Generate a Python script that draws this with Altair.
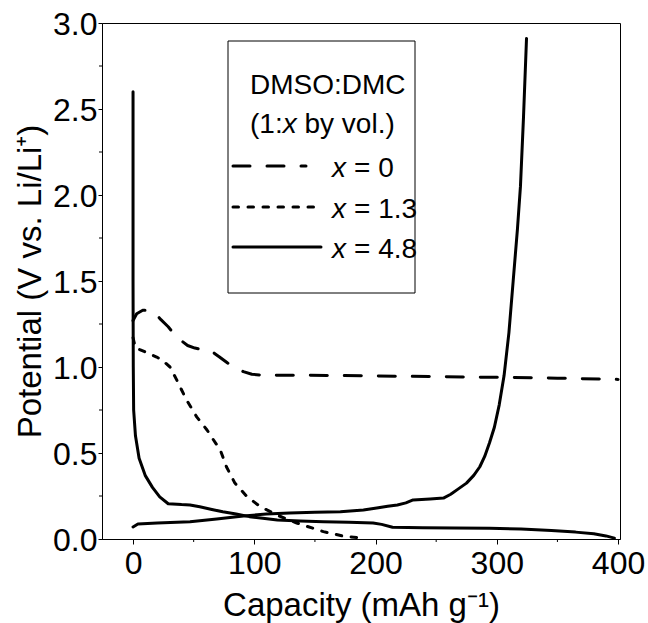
import altair as alt
import pandas as pd

FONT = "Liberation Sans"

# ---- data ----
# x = 0 (dashed)
cap_x0 = [0, 3, 8, 14, 18, 23, 29, 34, 39, 45, 51, 58, 64, 71, 78, 85, 91, 98, 106,
          130, 160, 200, 250, 300, 350, 400]
pot_x0 = [1.27, 1.31, 1.33, 1.33, 1.315, 1.275, 1.234, 1.19, 1.157, 1.125, 1.11, 1.10,
          1.095, 1.06, 1.023, 0.995, 0.973, 0.958, 0.953,
          0.952, 0.951, 0.948, 0.944, 0.94, 0.935, 0.928]

# x = 1.3 (dotted)
cap_x13 = [0, 2, 6, 12.5, 19.5, 24, 30.5, 36, 44, 52.5, 61, 66, 72, 77, 84, 94, 105,
           118.5, 135, 157, 173, 190]
pot_x13 = [1.17, 1.11, 1.10, 1.08, 1.058, 1.04, 1.0, 0.925, 0.81, 0.71, 0.634, 0.58,
           0.517, 0.42, 0.325, 0.246, 0.188, 0.14, 0.093, 0.043, 0.017, 0.004]

# x = 4.8 (solid), discharge branch
cap_x48_dis = [0, 0, 0.2, 0.5, 2, 5, 10, 16, 22, 29, 40, 47, 55, 65, 74, 85, 96, 107,
               119, 138, 157, 178, 198, 205, 214, 239, 265, 294, 320, 345, 365, 380,
               390, 397]
pot_x48_dis = [2.60, 1.5, 1.0, 0.75, 0.6, 0.47, 0.37, 0.30, 0.245, 0.205, 0.20, 0.198,
               0.187, 0.172, 0.158, 0.145, 0.13, 0.12, 0.11, 0.105, 0.10, 0.097, 0.093,
               0.085, 0.068, 0.066, 0.064, 0.062, 0.058, 0.05, 0.04, 0.03, 0.018, 0.005]

# x = 4.8 (solid), charge branch
cap_x48_chg = [0, 4, 20, 47, 69, 91, 110, 129, 150, 171, 190, 201, 210, 218, 225, 231,
               245, 256, 262, 268, 275, 281, 286, 290, 294, 298, 302, 306, 310, 313.5,
               317, 319.5, 322, 324.5]
pot_x48_chg = [0.07, 0.087, 0.093, 0.10, 0.116, 0.134, 0.145, 0.151, 0.155, 0.158,
               0.168, 0.18, 0.19, 0.198, 0.21, 0.227, 0.233, 0.238, 0.26, 0.29, 0.325,
               0.37, 0.42, 0.48, 0.56, 0.65, 0.78, 0.95, 1.2, 1.5, 1.8, 2.05, 2.45, 2.91]

x_major = [0, 100, 200, 300, 400]
x_minor = [50, 150, 250, 350]
y_major = [0.0, 0.5, 1.0, 1.5, 2.0, 2.5, 3.0]
y_minor = [0.25, 0.75, 1.25, 1.75, 2.25, 2.75]

legend_head = ["DMSO:DMC", "(1:", "x", "by vol.)"]
legend_vals = ["0", "1.3", "4.8"]

x_title = "Capacity (mAh g\u207b\u00b9)"
y_title = "Potential (V vs. Li/Li\u207a)"

# ---- layout ----
W, H = 518, 516


def frame(cap, pot, branch):
    return pd.DataFrame({"cap": cap, "pot": pot, "branch": branch,
                         "order": list(range(len(cap)))})


df_x0 = frame(cap_x0, pot_x0, "a")
df_x13 = frame(cap_x13, pot_x13, "a")
df_x48 = pd.concat([frame(cap_x48_dis, pot_x48_dis, "dis"),
                    frame(cap_x48_chg, pot_x48_chg, "chg")])

x_scale = alt.Scale(domain=[-25.6, 401.6], nice=False, zero=False)
y_scale = alt.Scale(domain=[0, 3], nice=False, zero=False)

x_enc = alt.X("cap:Q", scale=x_scale,
              axis=alt.Axis(values=x_major, title=x_title, tickSize=5,
                            labelPadding=29, labelBaseline="alphabetic",
                            labelFlush=False, titleX=W / 2, titleY=76,
                            titleAlign="center", titleBaseline="alphabetic"))
y_enc = alt.Y("pot:Q", scale=y_scale,
              axis=alt.Axis(values=y_major, format=".1f", title=y_title,
                            tickSize=4, labelPadding=1, labelBaseline="middle",
                            labelOffset=1,
                            titleX=-62, titleY=H / 2, titleAngle=-90,
                            titleAlign="center", titleBaseline="alphabetic"))

LW = 3
DASH = [17, 17]
DOT = [5.5, 9.5]


def curve(df, dash=None):
    kw = dict(color="black", strokeWidth=LW, strokeCap="round", strokeJoin="round")
    if dash:
        kw["strokeDash"] = dash
    return alt.Chart(df).mark_line(**kw).encode(
        x=x_enc, y=y_enc, order="order:Q", detail="branch:N")


lines = [curve(df_x0, DASH), curve(df_x13, DOT), curve(df_x48)]

# minor ticks (same encodings so the axes merge)
xminor = alt.Chart(pd.DataFrame({"cap": x_minor})).mark_rule(color="black", strokeWidth=1).encode(
    x=x_enc, y=alt.value(H), y2=alt.value(H + 3))
yminor = alt.Chart(pd.DataFrame({"pot": y_minor})).mark_rule(color="black", strokeWidth=1).encode(
    y=y_enc, x=alt.value(0), x2=alt.value(-3))

# legend (manual, to allow italic x)
one = pd.DataFrame({"k": [0]})
box = alt.Chart(one).mark_rect(fill="white", stroke="black", strokeWidth=1).encode(
    x=alt.value(126), x2=alt.value(313), y=alt.value(18), y2=alt.value(270))

LFS = 28


def label(text, x, y, italic=False):
    return alt.Chart(pd.DataFrame({"t": [text]})).mark_text(
        align="left", baseline="alphabetic", font=FONT, fontSize=LFS,
        fontStyle="italic" if italic else "normal", color="black").encode(
        x=alt.value(x), y=alt.value(y), text="t:N")


def sample(y, x_end, dash=None):
    kw = dict(color="black", strokeWidth=LW, strokeCap="round")
    if dash:
        kw["strokeDash"] = dash
    return alt.Chart(one).mark_rule(**kw).encode(
        x=alt.value(131), x2=alt.value(x_end), y=alt.value(y))


tx = 148
legend = [box,
          label(legend_head[0], tx, 71),
          label(legend_head[1], tx, 110),
          label(legend_head[2], tx + 32.7, 110, italic=True),
          label(legend_head[3], tx + 54.5, 110)]
row_y = [143, 184, 224]
row_end = [204, 215, 219]
dashes = [DASH, DOT, None]
for val, ry, xe, d in zip(legend_vals, row_y, row_end, dashes):
    legend.append(sample(ry, xe, d))
    legend.append(label("x", 230, ry + 11, italic=True))
    legend.append(label("= " + val, 252, ry + 11))

chart = alt.layer(*lines, xminor, yminor, *legend).properties(
    width=W, height=H,
    autosize=alt.AutoSizeParams(type="none"),
    padding={"left": 102, "top": 23, "right": 28, "bottom": 84},
).configure_view(stroke="black", strokeWidth=1).configure_axis(
    grid=False, domainColor="black", domainWidth=1, tickColor="black", tickWidth=1,
    labelFont=FONT, labelFontSize=32, labelColor="black",
    titleFont=FONT, titleFontSize=33, titleFontWeight="normal", titleColor="black",
)

chart.save("out.html", embed_options={"renderer": "svg", "actions": False})
